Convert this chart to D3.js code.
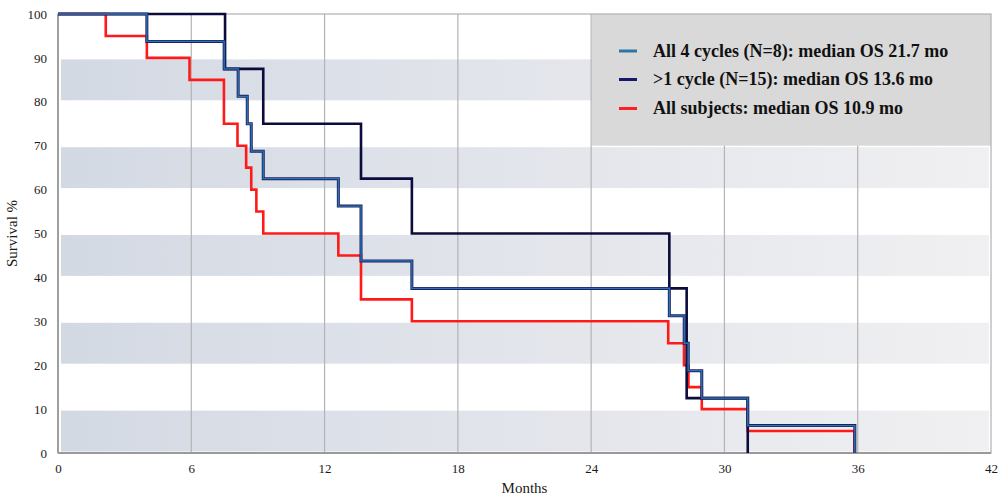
<!DOCTYPE html>
<html>
<head>
<meta charset="utf-8">
<script src="https://cdn.jsdelivr.net/npm/d3@7/dist/d3.min.js"></script>
<style>
  html, body { margin: 0; padding: 0; background: #ffffff; }
  svg { display: block; }
</style>
</head>
<body>
<svg id="chart" width="998" height="498"></svg>
<script>
// ---------- data ----------
const monthTicks = [0, 6, 12, 18, 24, 30, 36, 42];
const survivalTicks = [0, 10, 20, 30, 40, 50, 60, 70, 80, 90, 100];

const seriesNames = [
  "All 4 cycles (N=8): median OS 21.7 mo",
  ">1 cycle (N=15): median OS 13.6 mo",
  "All subjects: median OS 10.9 mo"
];

// step curve (teal, drawn with navy edge)
const fourCyclesTimes = [0, 4.0, 7.48, 8.11, 8.52, 8.7, 9.24, 12.62, 13.64, 15.93, 27.52, 28.19, 28.37, 28.98, 31.05, 35.87];
const fourCyclesSurv  = [100, 93.75, 87.5, 81.25, 75, 68.75, 62.5, 56.25, 43.75, 37.5, 31.25, 25, 18.75, 12.5, 6.25, 0];

// step curve (dark navy)
const oneCycleTimes = [0, 7.52, 9.24, 13.64, 15.93, 27.52, 28.3, 31.05];
const oneCycleSurv  = [100, 87.5, 75, 62.5, 50, 37.5, 12.5, 0];

// step curve (red)
const allSubjectsTimes = [0, 2.15, 4.0, 5.92, 7.47, 8.08, 8.47, 8.7, 8.93, 9.24, 12.62, 13.64, 15.93, 27.47, 28.18, 28.38, 28.98, 31.05, 35.85];
const allSubjectsSurv  = [100, 95, 90, 85, 75, 70, 65, 60, 55, 50, 45, 35, 30, 25, 20, 15, 10, 5, 0];

// ---------- layout ----------
const svg = d3.select("#chart");
const x = d3.scaleLinear().domain([0, 42]).range([58, 991]);
const y = d3.scaleLinear().domain([0, 100]).range([453, 14]);
const serif = "'Liberation Serif', 'Times New Roman', serif";

const defs = svg.append("defs");
const grad = defs.append("linearGradient").attr("id", "bandGrad")
  .attr("x1", "0%").attr("x2", "100%").attr("y1", "0%").attr("y2", "0%");
grad.append("stop").attr("offset", "0%").attr("stop-color", "#d3d9e3");
grad.append("stop").attr("offset", "55%").attr("stop-color", "#e4e6ec");
grad.append("stop").attr("offset", "100%").attr("stop-color", "#f0f0f2");

// alternating horizontal bands
const bands = [];
for (let i = 0; i + 1 < survivalTicks.length; i += 2) bands.push([survivalTicks[i], survivalTicks[i + 1]]);
svg.append("g").selectAll("rect").data(bands).join("rect")
  .attr("x", x(0) + 3)
  .attr("width", x(42) - x(0) - 5)
  .attr("y", d => y(d[1]) + 1.5)
  .attr("height", d => y(d[0]) - y(d[1]) - 3)
  .attr("fill", "url(#bandGrad)");

// vertical gridlines
svg.append("g").selectAll("line").data(monthTicks.filter(t => t > 0 && t < 42)).join("line")
  .attr("x1", d => x(d)).attr("x2", d => x(d))
  .attr("y1", y(100)).attr("y2", y(0))
  .attr("stroke", "#b4b4b4").attr("stroke-width", 1.2);

// legend box (drawn over plot background)
const legendBox = { x0: 24.04, x1: 42, y0: 70, y1: 100 };
svg.append("rect")
  .attr("x", x(legendBox.x0)).attr("y", y(legendBox.y1))
  .attr("width", x(legendBox.x1) - x(legendBox.x0))
  .attr("height", y(legendBox.y0) - y(legendBox.y1))
  .attr("fill", "#d9d9d9");

// frame
svg.append("rect")
  .attr("x", x(0)).attr("y", y(100))
  .attr("width", x(42) - x(0)).attr("height", y(0) - y(100))
  .attr("fill", "none").attr("stroke", "#b0b0b0").attr("stroke-width", 1.2);
svg.append("line").attr("x1", x(0)).attr("x2", x(0)).attr("y1", y(100)).attr("y2", y(0))
  .attr("stroke", "#9a9a9a").attr("stroke-width", 1.8);
svg.append("line").attr("x1", x(0)).attr("x2", x(42)).attr("y1", y(0)).attr("y2", y(0))
  .attr("stroke", "#9a9a9a").attr("stroke-width", 1.8);

// axes
const xAxis = svg.append("g").attr("transform", `translate(0,${y(0)})`)
  .call(d3.axisBottom(x).tickValues(monthTicks).tickSize(0).tickPadding(11));
const yAxis = svg.append("g").attr("transform", `translate(${x(0)},0)`)
  .call(d3.axisLeft(y).tickValues(survivalTicks).tickSize(0).tickPadding(11));
[xAxis, yAxis].forEach(a => {
  a.attr("font-family", serif).attr("font-size", 13);
  a.select(".domain").remove();
  a.selectAll("text").attr("font-family", serif).attr("font-size", 13).attr("fill", "#1a1a1a");
});

svg.append("text").attr("x", (x(0) + x(42)) / 2).attr("y", 493)
  .attr("text-anchor", "middle").attr("font-family", serif).attr("font-size", 15)
  .attr("fill", "#1a1a1a").text("Months");
svg.append("text").attr("transform", `translate(17,${(y(0) + y(100)) / 2}) rotate(-90)`)
  .attr("text-anchor", "middle").attr("font-family", serif).attr("font-size", 15)
  .attr("fill", "#1a1a1a").text("Survival %");

// curves
const line = d3.line().x(d => x(d[0])).y(d => y(d[1])).curve(d3.curveStepAfter);
const zip = (t, s) => t.map((v, i) => [v, s[i]]);

const curves = svg.append("g").attr("fill", "none").attr("stroke-linejoin", "miter");
curves.append("path").attr("d", line(zip(allSubjectsTimes, allSubjectsSurv)))
  .attr("stroke", "#ff1a1a").attr("stroke-width", 2.6);
curves.append("path").attr("d", line(zip(oneCycleTimes, oneCycleSurv)))
  .attr("stroke", "#0c0c3c").attr("stroke-width", 2.6);
curves.append("path").attr("d", line(zip(fourCyclesTimes, fourCyclesSurv)))
  .attr("stroke", "#18206e").attr("stroke-width", 3.0);
curves.append("path").attr("d", line(zip(fourCyclesTimes, fourCyclesSurv)))
  .attr("stroke", "#2f75a6").attr("stroke-width", 1.3);

// legend
const legendColors = ["#2f74a4", "#141a6b", "#ff2020"];
const legendY = [51, 79.5, 108.5];
const lg = svg.append("g");
seriesNames.forEach((name, i) => {
  lg.append("line").attr("x1", 619).attr("x2", 637)
    .attr("y1", legendY[i]).attr("y2", legendY[i])
    .attr("stroke", legendColors[i]).attr("stroke-width", 3);
  lg.append("text").attr("x", 653).attr("y", legendY[i]).attr("dy", "0.33em")
    .attr("font-family", serif).attr("font-weight", "bold").attr("font-size", 18)
    .attr("fill", "#111").text(name);
});
</script>
</body>
</html>
